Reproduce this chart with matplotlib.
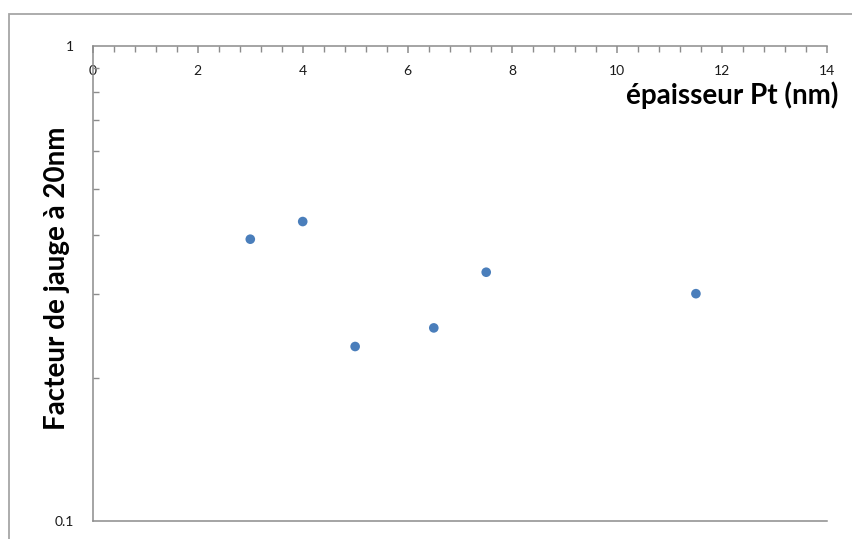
import matplotlib
matplotlib.use('Agg')
import matplotlib.pyplot as plt
from matplotlib.patches import Rectangle
from matplotlib.ticker import MultipleLocator, LogLocator, NullFormatter, FixedLocator, FixedFormatter

# data
thickness = [3, 4, 5, 6.5, 7.5, 11.5]
gauge_factor = [0.392, 0.427, 0.233, 0.255, 0.334, 0.301]

x_label = 'épaisseur Pt (nm)'
y_label = 'Facteur de jauge à 20nm'

SPINE_GRAY = '#8C8C8C'
POINT_BLUE = '#4A7EBB'
TEXT_DARK = '#1A1A1A'

plt.rcParams['font.family'] = ['Lato', 'DejaVu Sans']

fig = plt.figure(figsize=(8.53, 5.39), dpi=100)
ax = fig.add_axes([93 / 853, 1 - 521 / 539, (827 - 93) / 853, (521 - 46) / 539])

ax.scatter(thickness, gauge_factor, s=48, color=POINT_BLUE, edgecolors='none', zorder=3)

ax.set_yscale('log')
ax.set_ylim(0.1, 1)
ax.set_xlim(0, 14)

# x axis sits on top (at y = 1)
ax.xaxis.set_ticks_position('top')
ax.xaxis.set_major_locator(MultipleLocator(2))
ax.xaxis.set_minor_locator(MultipleLocator(0.4))
ax.tick_params(axis='x', which='both', direction='in', colors=SPINE_GRAY,
               labelcolor=TEXT_DARK, labelsize=10, labeltop=True, labelbottom=False,
               bottom=False)
ax.tick_params(axis='x', which='major', length=5, width=1.1, pad=-14)
ax.tick_params(axis='x', which='minor', length=4, width=1.0)

ax.yaxis.set_major_locator(FixedLocator([0.1, 1]))
ax.yaxis.set_major_formatter(FixedFormatter(['0.1', '1']))
ax.yaxis.set_minor_locator(LogLocator(base=10, subs=range(2, 10)))
ax.yaxis.set_minor_formatter(NullFormatter())
ax.tick_params(axis='y', which='both', direction='in', colors=SPINE_GRAY,
               labelcolor=TEXT_DARK, labelsize=10, right=False)
ax.tick_params(axis='y', which='major', length=0, pad=14)
ax.tick_params(axis='y', which='minor', length=4, width=1.0)

for lbl in ax.get_xticklabels():
    lbl.set_verticalalignment('top')

ax.spines['right'].set_visible(False)
for side in ['top', 'left', 'bottom']:
    ax.spines[side].set_color(SPINE_GRAY)
    ax.spines[side].set_linewidth(1.1)

fig.text(838 / 853, 1 - 95 / 539, x_label, ha='right', va='center',
         fontsize=20, fontweight='bold', color='black')
fig.text(57 / 853, 1 - 278 / 539, y_label, ha='center', va='center', rotation=90,
         fontsize=20, fontweight='bold', color='black')

# outer chart-area border
fig.patches.append(Rectangle((9 / 853, -0.1), 1.2, 1 - 14 / 539 + 0.1,
                             transform=fig.transFigure, fill=False,
                             edgecolor='#A6A6A6', linewidth=1.3))

fig.savefig('out.png', dpi=100)
